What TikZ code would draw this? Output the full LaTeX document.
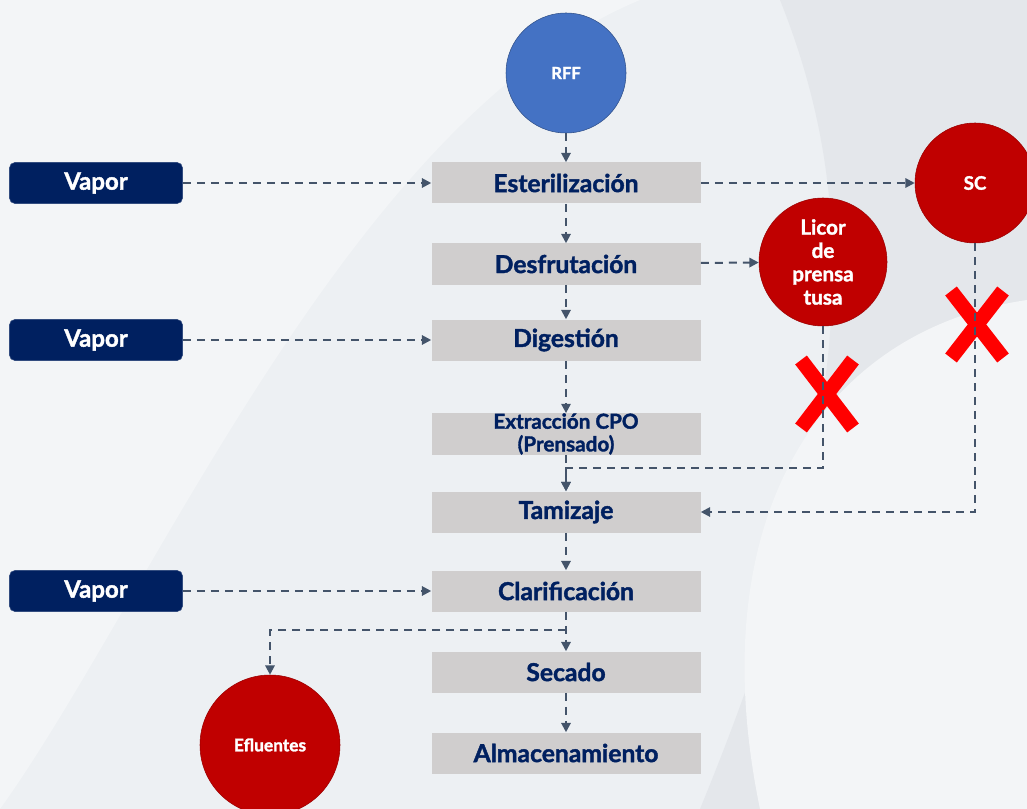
\documentclass[tikz,border=0pt]{standalone}
\usepackage{fontspec}
\setmainfont{Lato}[BoldFeatures={FakeBold=1.6}]
\usetikzlibrary{arrows.meta}
\definecolor{navy}{HTML}{002060}
\definecolor{boxgray}{HTML}{D0CECE}
\definecolor{linegray}{HTML}{44546A}
\definecolor{dred}{HTML}{C00000}
\definecolor{rffblue}{HTML}{4472C4}
\definecolor{bgback}{HTML}{EDF0F3}
\definecolor{bgdark}{HTML}{E4E7EB}
\definecolor{bglight}{HTML}{F3F5F7}
\tikzset{
	etapa/.style={fill=boxgray, minimum width=269*0.75pt, minimum height=41*0.75pt, inner sep=0pt, font=\bfseries\fontsize{18.5}{19}\selectfont, text=navy},
	vapor/.style={fill=navy, draw=navy!80!white, rounded corners=4pt, minimum width=173*0.75pt, minimum height=41*0.75pt, inner sep=0pt, font=\bfseries\fontsize{18}{19}\selectfont, text=white},
	salida/.style={circle, fill=dred, draw=dred!80!black, inner sep=0pt, text=white, font=\bfseries, align=center},
	flujo/.style={draw=linegray, line width=1.5pt, dash pattern=on 6pt off 4.5pt, -{Triangle[length=7pt,width=7pt]}},
	cruz/.style={draw=red, line width=11pt}
}
\begin{document}
\begin{tikzpicture}[x=0.75pt, y=-0.75pt]
	\useasboundingbox (0,0) rectangle (1027,809);
	% fondo
	\fill[bgback] (0,0) rectangle (1027,809);
	\fill[bglight] (0,809) .. controls (150,600) and (350,120) .. (640,0) -- (0,0) -- cycle;
	\fill[bgdark] (780,0) .. controls (860,200) and (860,420) .. (700,809) -- (1027,809) -- (1027,0) -- cycle;
	\fill[bglight] (1027,300) .. controls (820,330) and (700,520) .. (760,809) -- (1027,809) -- cycle;
	\fill[bgback] (0,809) .. controls (200,650) and (450,560) .. (700,560) -- (700,809) -- cycle;

	% entrada
	\node[circle, fill=rffblue, draw=rffblue!70!black, minimum size=120*0.75pt, inner sep=0pt, text=white, font=\bfseries\fontsize{12.5}{14}\selectfont] (rff) at (566,73) {RFF};

	% etapas del proceso
	\node[etapa] (ester) at (566,183) {Esterilización};
	\node[etapa] (desfr) at (566,264) {Desfrutación};
	\node[etapa] (diges) at (566,340) {Digestión};
	\node[etapa, align=center, font=\bfseries\fontsize{15.5}{17}\selectfont] (extra) at (566,434) {Extracción CPO\\(Prensado)};
	\node[etapa] (tamiz) at (566,512) {Tamizaje};
	\node[etapa] (clari) at (566,591) {Clarificación};
	\node[etapa] (secad) at (566,672) {Secado};
	\node[etapa] (almac) at (566,753) {Almacenamiento};

	% vapor
	\node[vapor] (vap1) at (96,183) {Vapor};
	\node[vapor] (vap2) at (96,340) {Vapor};
	\node[vapor] (vap3) at (96,591) {Vapor};

	% salidas
	\node[salida, minimum size=120*0.75pt, font=\bfseries\fontsize{14}{16}\selectfont] (sc) at (975,183) {SC};
	\node[salida, minimum size=128*0.75pt, font=\bfseries\fontsize{15.5}{17.5}\selectfont] (licor) at (823,262) {Licor\\de\\prensa\\tusa};
	\node[salida, minimum size=140*0.75pt, font=\bfseries\fontsize{13}{14}\selectfont] (eflu) at (270,745) {Efluentes};

	% cruces
	\draw[cruz] (801,360) -- (853,428) (853,360) -- (801,428);
	\draw[cruz] (951,291) -- (1003,358) (1003,291) -- (951,358);

	% flujo principal
	\draw[flujo] (rff) -- (ester);
	\draw[flujo] (ester) -- (desfr);
	\draw[flujo] (desfr) -- (diges);
	\draw[flujo] (diges) -- (extra);
	\draw[flujo] (extra) -- (tamiz);
	\draw[flujo] (tamiz) -- (clari);
	\draw[flujo] (clari) -- (secad);
	\draw[flujo] (secad) -- (almac);

	\draw[flujo] (vap1) -- (ester);
	\draw[flujo] (vap2) -- (diges);
	\draw[flujo] (vap3) -- (clari);

	\draw[flujo] (ester) -- (sc);
	\draw[flujo] (desfr) -- (licor);

	% retornos
	\draw[flujo] (licor.south) |- (566,468) -- (tamiz.north);
	\draw[flujo] (sc.south) |- (tamiz.east);
	\draw[flujo] (566,630) -| (eflu.north);
\end{tikzpicture}
\end{document}
